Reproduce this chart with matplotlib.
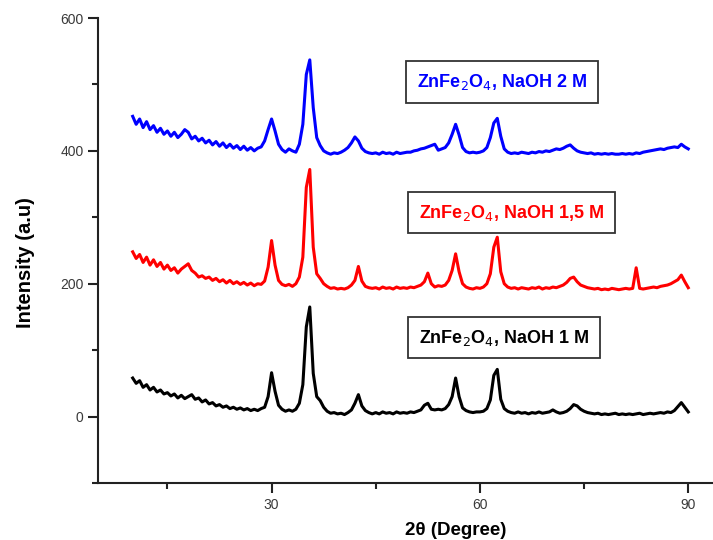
import numpy as np
import matplotlib.pyplot as plt
from matplotlib.ticker import MultipleLocator

# 2-theta grid (degrees), same for all three patterns
two_theta = np.arange(10, 90.5, 0.5)

# intensities, 10 points (5 degrees) per row
naoh_1m = [
    58, 50, 54, 44, 48, 40, 44, 37, 40, 34,
    36, 31, 34, 28, 32, 27, 30, 33, 26, 28,
    22, 25, 19, 21, 16, 18, 14, 16, 12, 14,
    11, 13, 10, 12, 9, 11, 9, 12, 14, 30,
    66, 38, 17, 11, 8, 10, 8, 11, 20, 48,
    135, 165, 65, 30, 24, 14, 8, 5, 6, 4,
    5, 3, 6, 10, 20, 33, 16, 9, 6, 4,
    6, 4, 7, 5, 6, 4, 7, 5, 6, 5,
    7, 6, 8, 10, 17, 20, 11, 10, 11, 10,
    12, 18, 30, 58, 30, 13, 9, 7, 6, 7,
    7, 8, 12, 25, 62, 71, 26, 12, 8, 6,
    5, 7, 5, 6, 4, 6, 5, 7, 5, 6,
    7, 10, 7, 5, 6, 8, 12, 18, 16, 11,
    8, 6, 5, 4, 5, 3, 4, 3, 4, 5,
    3, 4, 3, 4, 3, 4, 5, 3, 4, 5,
    4, 5, 6, 5, 7, 6, 9, 15, 21, 14,
    7,
]

naoh_15m = [
    248, 238, 244, 232, 240, 228, 236, 226, 232, 222,
    228, 220, 224, 216, 222, 226, 230, 220, 216, 210,
    212, 208, 210, 205, 208, 203, 206, 201, 205, 200,
    203, 199, 202, 198, 201, 197, 200, 199, 204, 225,
    265, 228, 205, 199, 197, 199, 196, 200, 210, 240,
    345, 372, 255, 215, 208, 200, 196, 193, 194, 192,
    193, 192, 194, 198, 205, 226, 204, 196, 194, 193,
    194, 192, 195, 193, 194, 192, 195, 193, 194, 193,
    195, 194, 196, 198, 203, 216, 200, 195, 197, 196,
    198, 205, 220, 245, 218, 200, 195, 193, 192, 194,
    193, 195, 200, 215, 255, 270, 218, 200, 195, 193,
    194, 192, 194, 193, 192, 194, 193, 195, 192, 194,
    193, 195, 194, 196, 198, 202, 208, 210, 203, 198,
    196, 194, 193, 192, 193, 191, 192, 191, 193, 192,
    191, 192, 193, 192, 193, 224, 193, 192, 193, 194,
    195, 194, 196, 197, 198, 200, 203, 206, 213, 203,
    194,
]

naoh_2m = [
    452, 440, 448, 435, 444, 432, 438, 428, 434, 425,
    430, 422, 428, 420, 425, 432, 428, 418, 422, 415,
    419, 412, 416, 409, 414, 407, 412, 405, 410, 404,
    408, 402, 407, 401, 405, 400, 404, 406, 415, 432,
    448, 430, 410, 402, 398, 403, 400, 398, 410, 440,
    515, 537, 465, 420, 408, 400, 397, 395, 397, 396,
    398, 401, 405, 412, 421, 415, 404, 399, 397, 396,
    397, 395, 398, 396, 397, 395, 398, 396, 397, 398,
    398, 400, 401, 403, 404, 406, 408, 410, 401, 403,
    405, 412, 425, 440, 424, 405, 399, 397, 398, 397,
    398, 400, 405, 420, 442, 449, 422, 403, 398, 396,
    397, 396, 398, 397, 396, 398, 397, 399, 398, 400,
    399, 401, 403, 402, 404, 407, 409, 404, 400, 398,
    397, 396, 397, 395, 396, 395, 396, 395, 396, 395,
    395, 396, 395, 396, 395, 397, 396, 398, 399, 400,
    401, 402, 403, 402, 404, 405, 406, 405, 410, 406,
    403,
]

series = [
    (naoh_1m, "black", "1 M", (63.5, 119)),
    (naoh_15m, "#ff0000", "1,5 M", (64.5, 307)),
    (naoh_2m, "#0000ff", "2 M", (63.2, 504)),
]

plt.rcParams['font.family'] = ['Liberation Sans', 'DejaVu Sans']

fig = plt.figure(figsize=(7.13, 5.40), dpi=100)
ax = fig.add_axes([0.1374, 0.1056, 0.862, 0.861])

for y, color, conc, (tx, ty) in series:
    ax.plot(two_theta, y, color=color, linewidth=2.2)
    ax.text(tx, ty, "ZnFe$_2$O$_4$, NaOH " + conc, color=color,
            fontsize=13, fontweight='bold', ha='center', va='center',
            bbox=dict(boxstyle='square,pad=0.6', facecolor='white',
                      edgecolor='#333333', linewidth=1.3))

ax.set_xlim(5, 93.5)
ax.set_ylim(-100, 600)
ax.xaxis.set_major_locator(MultipleLocator(30))
ax.xaxis.set_minor_locator(MultipleLocator(15))
ax.yaxis.set_major_locator(MultipleLocator(200))
ax.yaxis.set_minor_locator(MultipleLocator(100))

for side in ['top', 'right']:
    ax.spines[side].set_visible(False)
for side in ['left', 'bottom']:
    ax.spines[side].set_linewidth(1.5)
    ax.spines[side].set_color('#222222')

ax.tick_params(which='major', direction='out', length=7, width=1.5,
               labelsize=10, labelcolor='#3a3a3a', color='#222222')
ax.tick_params(which='minor', direction='out', length=4, width=1.5,
               color='#222222')

ax.set_xlabel("2θ (Degree)", fontsize=13.5, fontweight='bold')
ax.set_ylabel("Intensity (a.u)", fontsize=14.5, fontweight='bold')
ax.xaxis.set_label_coords(0.582, -0.084)
ax.yaxis.set_label_coords(-0.102, 0.475)

fig.savefig("out.png", dpi=100)
